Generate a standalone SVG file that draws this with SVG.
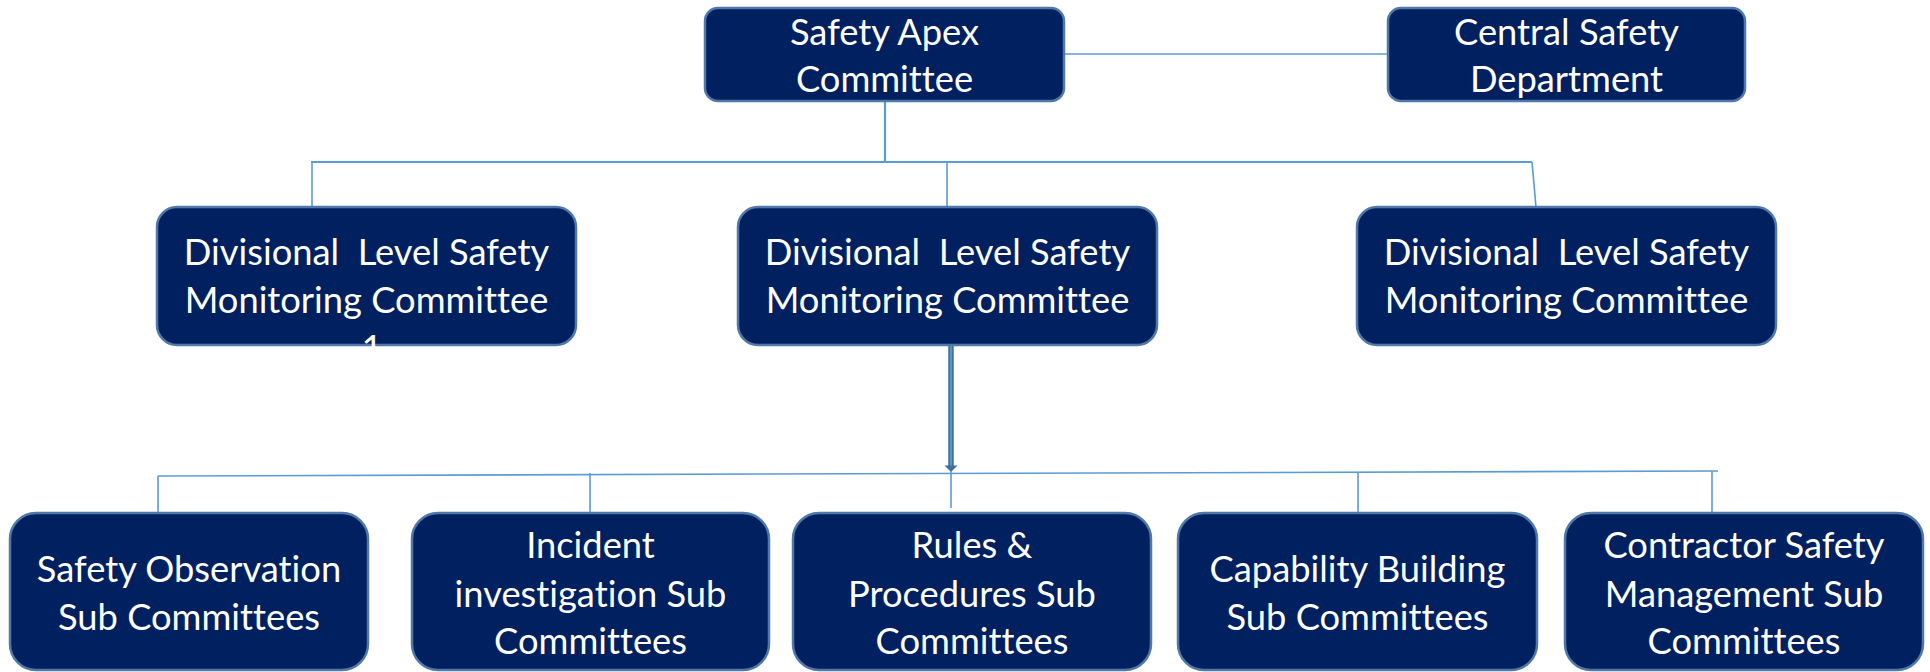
<svg xmlns="http://www.w3.org/2000/svg" width="1930" height="672" viewBox="0 0 1930 672">
<style>
.box{fill:#012060;stroke:#5078A8;stroke-width:2.5}
.t{font-family:Lato,"Liberation Sans",sans-serif;font-size:36.3px;fill:#ffffff;text-anchor:middle;white-space:pre;font-variant-ligatures:none}
.c{stroke:#5B9BD5;stroke-width:1.6;fill:none}
.cb{stroke:#5B9BD5;stroke-width:2.2;fill:none}
</style>
<rect width="1930" height="672" fill="#ffffff"/>
<g id="connectors">
<line class="c" x1="1064" y1="54" x2="1388" y2="54"/>
<line class="cb" x1="885" y1="101" x2="885" y2="162"/>
<line class="cb" x1="311" y1="162" x2="1532" y2="162"/>
<line class="c" x1="312" y1="162" x2="312" y2="207"/>
<line class="c" x1="947" y1="162" x2="947" y2="207"/>
<line class="c" x1="1532" y1="162" x2="1536" y2="207"/>
<line stroke="#41719C" stroke-width="5.5" x1="951" y1="345" x2="951" y2="467"/>
<line stroke="#5B9BD5" stroke-width="1.8" x1="951" y1="345" x2="951" y2="466"/>
<polygon points="944.5,465.5 957.5,465.5 951,472" fill="#41719C"/>
<line class="c" x1="158" y1="476" x2="1718" y2="471"/>
<line class="c" x1="158" y1="476" x2="158" y2="513"/>
<line class="c" x1="590" y1="473" x2="590" y2="513"/>
<line class="c" x1="951" y1="471" x2="951" y2="508"/>
<line class="c" x1="1358" y1="472" x2="1358" y2="513"/>
<line class="c" x1="1712" y1="471" x2="1712" y2="513"/>
</g>
<g id="apex">
<rect class="box" x="705" y="8" width="359" height="93" rx="13"/>
<text class="t" x="884.5" y="45">Safety Apex</text>
<text class="t" x="884.5" y="92">Committee</text>
</g>
<g id="central">
<rect class="box" x="1388" y="8" width="357" height="93" rx="13"/>
<text class="t" x="1566.5" y="45">Central Safety</text>
<text class="t" x="1566.5" y="92">Department</text>
</g>
<g id="div1">
<rect class="box" x="157" y="207" width="419" height="138" rx="20"/>
<text class="t" x="366.5" y="265">Divisional  Level Safety</text>
<text class="t" x="366.5" y="313">Monitoring Committee</text>
<text class="t" x="372" y="361">1</text>
</g>
<g id="div2">
<rect class="box" x="738" y="207" width="419" height="138" rx="20"/>
<text class="t" x="947.5" y="265">Divisional  Level Safety</text>
<text class="t" x="947.5" y="313">Monitoring Committee</text>
</g>
<g id="div3">
<rect class="box" x="1357" y="207" width="419" height="138" rx="20"/>
<text class="t" x="1566.5" y="265">Divisional  Level Safety</text>
<text class="t" x="1566.5" y="313">Monitoring Committee</text>
</g>
<g id="sub1">
<rect class="box" x="10" y="513" width="358" height="157" rx="26"/>
<text class="t" x="189" y="582">Safety Observation</text>
<text class="t" x="189" y="630">Sub Committees</text>
</g>
<g id="sub2">
<rect class="box" x="412" y="513" width="357" height="157" rx="26"/>
<text class="t" x="590.5" y="558">Incident</text>
<text class="t" x="590.5" y="607">investigation Sub</text>
<text class="t" x="590.5" y="654">Committees</text>
</g>
<g id="sub3">
<rect class="box" x="793" y="513" width="358" height="157" rx="26"/>
<text class="t" x="972" y="558">Rules &amp;</text>
<text class="t" x="972" y="607">Procedures Sub</text>
<text class="t" x="972" y="654">Committees</text>
</g>
<g id="sub4">
<rect class="box" x="1178" y="513" width="359" height="157" rx="26"/>
<text class="t" x="1357.5" y="582">Capability Building</text>
<text class="t" x="1357.5" y="630">Sub Committees</text>
</g>
<g id="sub5">
<rect class="box" x="1565" y="513" width="358" height="157" rx="26"/>
<text class="t" x="1744" y="558">Contractor Safety</text>
<text class="t" x="1744" y="607">Management Sub</text>
<text class="t" x="1744" y="654">Committees</text>
</g>
</svg>
